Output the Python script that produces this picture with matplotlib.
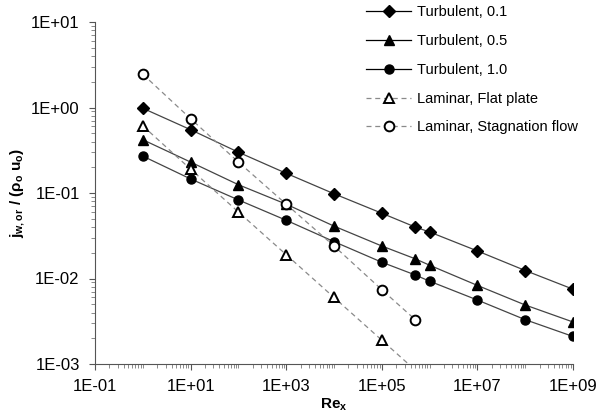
import matplotlib
matplotlib.use("Agg")
import matplotlib.pyplot as plt
from matplotlib.ticker import LogLocator, FixedLocator, NullFormatter, FuncFormatter
import numpy as np

plt.rcParams['font.family'] = ['Liberation Sans', 'DejaVu Sans']
plt.rcParams['mathtext.fontset'] = 'custom'
plt.rcParams['mathtext.rm'] = 'Liberation Sans:bold'
plt.rcParams['mathtext.it'] = 'Liberation Sans:bold'
plt.rcParams['mathtext.bf'] = 'Liberation Sans:bold'
plt.rcParams['mathtext.default'] = 'rm'

# Data
re_turb = [1, 10, 100, 1e3, 1e4, 1e5, 5e5, 1e6, 1e7, 1e8, 1e9]
turb_01 = [0.98, 0.55, 0.30, 0.17, 0.098, 0.058, 0.040, 0.035, 0.021, 0.0124, 0.0075]
turb_05 = [0.42, 0.23, 0.125, 0.074, 0.041, 0.024, 0.017, 0.0143, 0.0083, 0.0049, 0.0031]
turb_10 = [0.27, 0.146, 0.083, 0.048, 0.027, 0.0155, 0.011, 0.0093, 0.0056, 0.0033, 0.0021]

re_flat = [1, 10, 100, 1e3, 1e4, 1e5, 1e6]
lam_flat = [0.61, 0.19, 0.060, 0.019, 0.006, 0.0019, 0.0006]

re_stag = [1, 10, 100, 1e3, 1e4, 1e5, 5e5]
lam_stag = [2.45, 0.74, 0.23, 0.074, 0.024, 0.0074, 0.0033]

labels = ['Turbulent, 0.1', 'Turbulent, 0.5', 'Turbulent, 1.0',
          'Laminar, Flat plate', 'Laminar, Stagnation flow']

fig = plt.figure(figsize=(5.98, 4.18), dpi=100)
ax = fig.add_axes([95/598, 1-364/418, (573-95)/598, (364-22)/418])

lc = '#444444'
dc = '#8a8a8a'
ms = 6.5
h1, = ax.plot(re_turb, turb_01, '-', color=lc, lw=0.9, marker='D', ms=ms-0.5,
              mfc='black', mec='black', label=labels[0])
h2, = ax.plot(re_turb, turb_05, '-', color=lc, lw=0.9, marker='^', ms=ms+0.5,
              mfc='black', mec='black', label=labels[1])
h3, = ax.plot(re_turb, turb_10, '-', color=lc, lw=0.9, marker='o', ms=ms,
              mfc='black', mec='black', label=labels[2])
h4, = ax.plot(re_flat, lam_flat, '--', color=dc, lw=0.9, dashes=(4, 3), marker='^', ms=ms+0.5,
              mfc='white', mec='black', mew=1.4, label=labels[3])
h5, = ax.plot(re_stag, lam_stag, '--', color=dc, lw=0.9, dashes=(4, 3), marker='o', ms=ms+0.5,
              mfc='white', mec='black', mew=1.4, label=labels[4])

ax.set_xscale('log')
ax.set_yscale('log')
ax.set_xlim(1e-1, 1e9)
ax.set_ylim(1e-3, 1e1)

def efmt(v, pos):
    e = int(round(np.log10(v)))
    return f"1E{'+' if e >= 0 else '-'}{abs(e):02d}"

xmaj = [10.0**k for k in range(-1, 10, 2)]
ax.xaxis.set_major_locator(FixedLocator(xmaj))
xmin = []
for k in range(-1, 9):
    for s in range(1, 10):
        v = s * 10.0**k
        if s == 1 and k in range(-1, 10, 2):
            continue
        xmin.append(v)
ax.xaxis.set_minor_locator(FixedLocator(xmin))
ax.xaxis.set_major_formatter(FuncFormatter(efmt))
ax.xaxis.set_minor_formatter(NullFormatter())

ax.yaxis.set_major_locator(FixedLocator([1e-3, 1e-2, 1e-1, 1e0, 1e1]))
ax.yaxis.set_minor_locator(LogLocator(base=10, subs=np.arange(2, 10)))
ax.yaxis.set_major_formatter(FuncFormatter(efmt))
ax.yaxis.set_minor_formatter(NullFormatter())

for s in ['top', 'right']:
    ax.spines[s].set_visible(False)
for s in ['left', 'bottom']:
    ax.spines[s].set_color('#555555')
    ax.spines[s].set_linewidth(0.8)

ax.tick_params(axis='both', which='major', length=4, width=0.8, color='#555555',
               labelsize=12, pad=7)
ax.tick_params(axis='both', which='minor', length=3, width=0.6, color='#777777')
ax.tick_params(axis='y', which='both', direction='out')
ax.tick_params(axis='x', which='both', direction='out')

ax.set_xlabel('Re$_x$', fontsize=11, fontweight='bold', labelpad=2)
ax.set_ylabel('j$_{w,or}$ / (ρ$_o$ u$_o$)', fontsize=11, fontweight='bold', labelpad=3)

leg = fig.legend(handles=[h1, h2, h3, h4, h5], loc='upper left',
                 bbox_to_anchor=(366/598, 1-5/418), frameon=False, fontsize=10.5,
                 numpoints=1, handlelength=3.1, handletextpad=0.4,
                 labelspacing=1.02, borderpad=0, borderaxespad=0)
for lh in leg.get_lines():
    lh.set_color('black')
leg.get_lines()[3].set_color(dc)
leg.get_lines()[4].set_color(dc)

fig.savefig('out.png', dpi=100)
